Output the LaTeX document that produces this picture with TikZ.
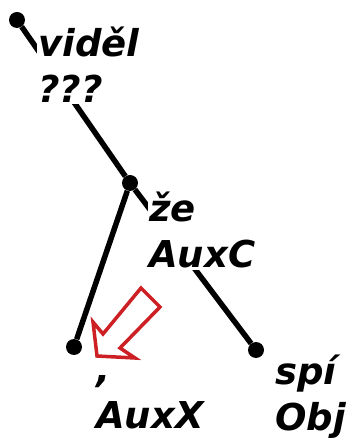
\documentclass[tikz,border=0pt]{standalone}
\usepackage{fontspec}
\setmainfont{DejaVu Sans}
\usepackage{tikz}
\usetikzlibrary{positioning}
\definecolor{markred}{RGB}{204,32,36}
\tikzstyle{dot}=[circle,fill=black,draw=none,inner sep=0pt,minimum size=16pt]
\tikzstyle{edge}=[line width=5.5pt]
\tikzstyle{lbl}=[fill=white,inner sep=1pt,align=left,font=\fontsize{37}{46}\selectfont\bfseries\itshape]

\begin{document}
\begin{tikzpicture}[x=1pt,y=1pt]
  \useasboundingbox (0,0) rectangle (348,439);
  \node[dot] (root) at (17,419) {};
  \node[dot] (ze) at (130,256) {};
  \node[dot] (comma) at (74,92) {};
  \node[dot] (spi) at (256,89) {};
  \draw[edge] (root) -- (ze);
  \draw[edge] (ze) -- (comma);
  \draw[edge] (ze) -- (spi);
  \node[lbl, below right=83pt and 20pt of root.center, anchor=base west] (rootlbl) {viděl\\???};
  \node[lbl, below right=85pt and 18pt of ze.center, anchor=base west] (zelbl) {že\\AuxC};
  \node[lbl, below right=82pt and 21pt of comma.center, anchor=base west] (commalbl) {,\\AuxX};
  \node[lbl, below right=80pt and 18pt of spi.center, anchor=base west] (spilbl) {spí\\Obj};
  \draw[markred, line width=3.5pt, fill=white] (141,151) -- (160,132) -- (120,91) -- (135,81)
    -- (97,83) -- (93,117) -- (103,105) -- cycle;
\end{tikzpicture}
\end{document}
